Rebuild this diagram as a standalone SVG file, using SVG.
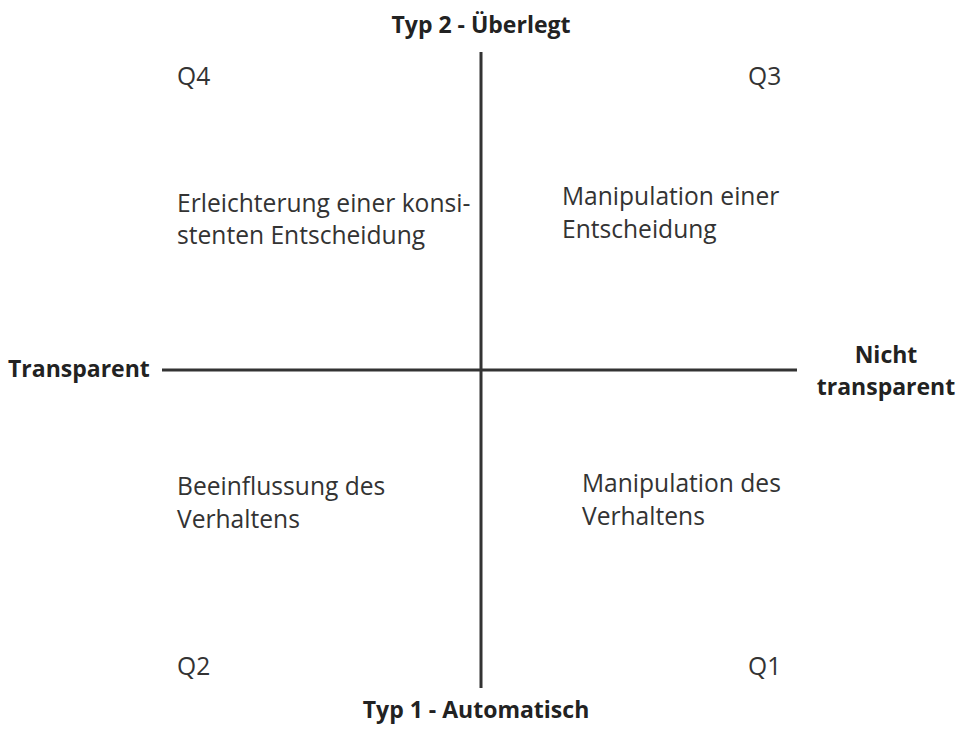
<svg xmlns="http://www.w3.org/2000/svg" width="960" height="729" viewBox="0 0 960 729">
<style>
text{font-family:"Open Sans","Noto Sans","Liberation Sans",sans-serif;fill:#222}
.b{font-weight:bold;font-size:23px}
.n{font-size:24.6px;fill:#333}
.ax{stroke:#333;stroke-width:3;fill:none}
</style>
<rect width="960" height="729" fill="#fff"/>
<g id="axes">
<line class="ax" x1="481" y1="52" x2="481" y2="688"/>
<line class="ax" x1="162" y1="370" x2="797" y2="370"/>
</g>
<g id="top"><text class="b" x="481" y="33" text-anchor="middle">Typ 2 - Überlegt</text></g>
<g id="bottom"><text class="b" x="476" y="718" text-anchor="middle" font-size="24">Typ 1 - Automatisch</text></g>
<g id="left"><text class="b" x="8" y="377">Transparent</text></g>
<g id="right"><text class="b" x="886" y="363" text-anchor="middle">Nicht</text><text class="b" x="886" y="395" text-anchor="middle">transparent</text></g>
<g id="q4"><text class="n" x="177" y="85">Q4</text><text class="n" x="177" y="212">Erleichterung einer konsi-</text><text class="n" x="177" y="244">stenten Entscheidung</text></g>
<g id="q3"><text class="n" x="748" y="85">Q3</text><text class="n" x="562" y="205">Manipulation einer</text><text class="n" x="562" y="238">Entscheidung</text></g>
<g id="q2"><text class="n" x="177" y="495">Beeinflussung des</text><text class="n" x="177" y="528">Verhaltens</text><text class="n" x="177" y="675">Q2</text></g>
<g id="q1"><text class="n" x="582" y="492">Manipulation des</text><text class="n" x="582" y="525">Verhaltens</text><text class="n" x="748" y="675">Q1</text></g>
</svg>
